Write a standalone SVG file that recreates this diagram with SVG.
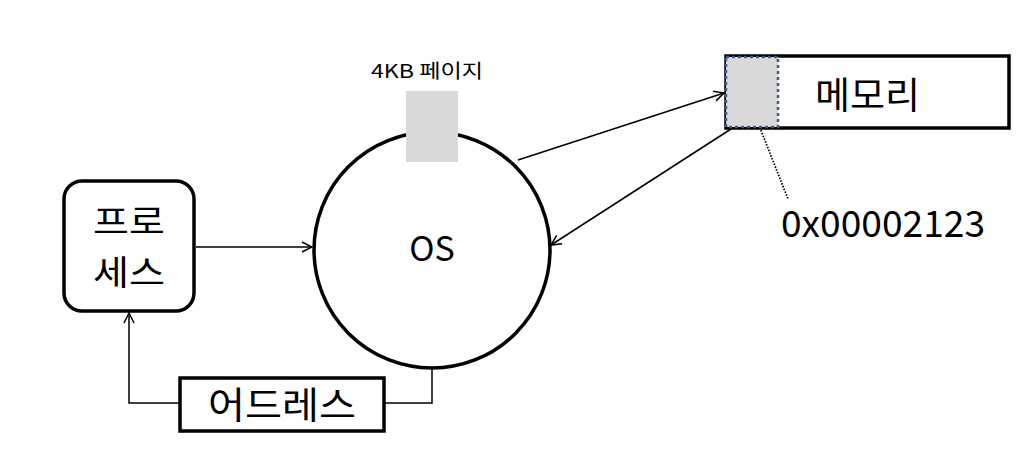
<svg xmlns="http://www.w3.org/2000/svg" width="1033" height="473" viewBox="0 0 1033 473">
<style>
text{font-family:"Noto Sans CJK KR","Noto Sans",sans-serif;fill:#000}
.big{font-size:37px}
.box{fill:#fff;stroke:#000;stroke-width:3.5}
.ln{fill:none;stroke:#000;stroke-width:1.5}
</style>
<defs>
<marker id="ah" viewBox="0 0 12 12" refX="11" refY="6" markerWidth="12" markerHeight="12" markerUnits="userSpaceOnUse" orient="auto">
<path d="M1,1 L11,6 L1,11" fill="none" stroke="#000" stroke-width="1.5"/>
</marker>
</defs>
<g id="connectors">
<line class="ln" x1="196" y1="247" x2="312" y2="247" marker-end="url(#ah)"/>
<polyline class="ln" points="432,367 432,403 383,403"/>
<polyline class="ln" points="179,403 129,403 129,313" marker-end="url(#ah)"/>
<line class="ln" x1="518" y1="160" x2="724" y2="93" marker-end="url(#ah)"/>
<line class="ln" x1="731" y1="129" x2="551" y2="245" marker-end="url(#ah)"/>
<line x1="751" y1="105" x2="788" y2="199" stroke="#000" stroke-width="1.8" stroke-dasharray="1.5,1.5"/>
</g>
<g id="os">
<circle cx="432" cy="250" r="118" fill="#fff" stroke="#000" stroke-width="3.5"/>
<text x="432" y="261" font-size="34" text-anchor="middle">OS</text>
</g>
<g id="page">
<rect x="406" y="91" width="52" height="71" fill="#d9d9d9"/>
<text x="371" y="78" font-size="19" textLength="112" lengthAdjust="spacingAndGlyphs">4KB 페이지</text>
</g>
<g id="process">
<rect class="box" x="64" y="181" width="130" height="130" rx="18"/>
<text x="93" y="234" font-size="34" textLength="72" lengthAdjust="spacingAndGlyphs">프로</text>
<text x="93" y="285" font-size="34" textLength="72" lengthAdjust="spacingAndGlyphs">세스</text>
</g>
<g id="address">
<rect class="box" x="180" y="378" width="204" height="53"/>
<text class="big" x="208" y="419" textLength="148" lengthAdjust="spacingAndGlyphs">어드레스</text>
</g>
<g id="memory">
<rect class="box" x="726" y="56" width="283" height="72"/>
<rect x="726" y="57" width="52" height="70" fill="#d9d9d9" stroke="#385d8a" stroke-width="2.5" stroke-dasharray="3,3"/>
<text class="big" x="815" y="109" textLength="105" lengthAdjust="spacingAndGlyphs">메모리</text>
</g>
<g id="addr-label">
<text class="big" x="781" y="237" textLength="204" lengthAdjust="spacingAndGlyphs">0x00002123</text>
</g>
</svg>
